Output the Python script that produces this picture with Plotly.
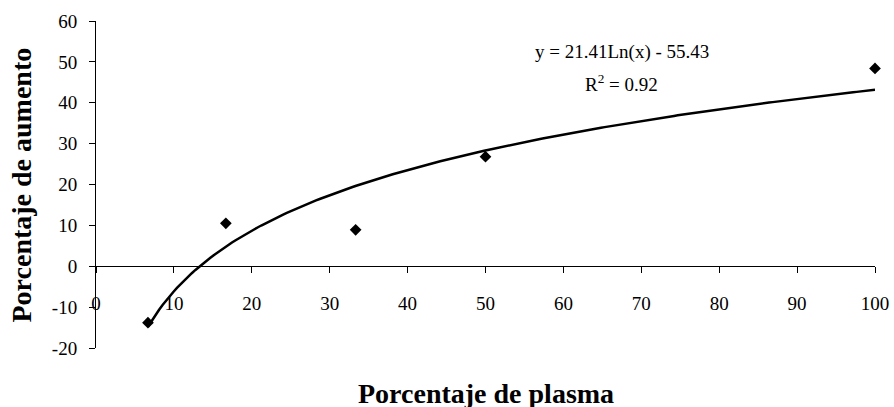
import numpy as np
import plotly.graph_objects as go

# Data
plasma_pct = [6.67, 16.67, 33.33, 50.0, 100.0]
aumento_pct = [-13.8, 10.5, 8.9, 26.8, 48.4]

# Logarithmic trendline coefficients shown on chart: y = a*ln(x) + b
trend_a = 21.41
trend_b = -55.43
r_squared = 0.92

x_ticks = [0, 10, 20, 30, 40, 50, 60, 70, 80, 90, 100]
y_ticks = [-20, -10, 0, 10, 20, 30, 40, 50, 60]

FONT = "Liberation Serif, Times New Roman, serif"

xt = np.linspace(min(plasma_pct), max(plasma_pct), 200)
yt = trend_a * np.log(xt) + trend_b

fig = go.Figure()
fig.add_trace(go.Scatter(x=xt, y=yt, mode="lines",
                         line=dict(color="black", width=2.5),
                         cliponaxis=False,
                         hoverinfo="skip", showlegend=False))
fig.add_trace(go.Scatter(x=plasma_pct, y=aumento_pct, mode="markers",
                         marker=dict(symbol="diamond", size=9, color="black"),
                         cliponaxis=False,
                         showlegend=False))

fig.update_layout(
    width=894, height=407,
    margin=dict(l=96, r=19, t=21, b=59, autoexpand=False),
    paper_bgcolor="white", plot_bgcolor="white",
    font=dict(family=FONT, color="black", size=19),
    xaxis=dict(range=[0, 100], tickvals=x_ticks, ticktext=[str(v) for v in x_ticks],
               showgrid=False, zeroline=False, showline=True, linecolor="black",
               linewidth=1, ticks="outside", ticklen=6, tickcolor="black",
               anchor="free", position=0.25, ticklabelstandoff=14,
               automargin=False,
               tickfont=dict(family=FONT, size=19, color="black")),
    yaxis=dict(range=[-20, 60], tickvals=y_ticks, ticktext=[str(v) for v in y_ticks],
               showgrid=False, zeroline=False, showline=True, linecolor="black",
               linewidth=1, ticks="outside", ticklen=6, tickcolor="black",
               ticklabelstandoff=8, automargin=False,
               tickfont=dict(family=FONT, size=19, color="black")),
    annotations=[
        dict(text="<b>Porcentaje de aumento</b>", xref="paper", yref="paper",
             x=-0.095, y=0.5, xanchor="center", yanchor="middle", textangle=-90,
             showarrow=False, font=dict(family=FONT, size=28, color="black")),
        dict(text="<b>Porcentaje de plasma</b>", xref="paper", yref="paper",
             x=0.5, y=-0.138, xanchor="center", yanchor="middle",
             showarrow=False, font=dict(family=FONT, size=28, color="black")),
        dict(text=f"y = {trend_a}Ln(x) - {abs(trend_b)}", xref="paper", yref="paper",
             x=0.675, y=0.905, xanchor="center", yanchor="middle",
             showarrow=False, font=dict(family=FONT, size=19, color="black")),
        dict(text=f"R<sup>2</sup> = {r_squared}", xref="paper", yref="paper",
             x=0.675, y=0.81, xanchor="center", yanchor="middle",
             showarrow=False, font=dict(family=FONT, size=19, color="black")),
    ],
)

fig.write_html("out.html")
